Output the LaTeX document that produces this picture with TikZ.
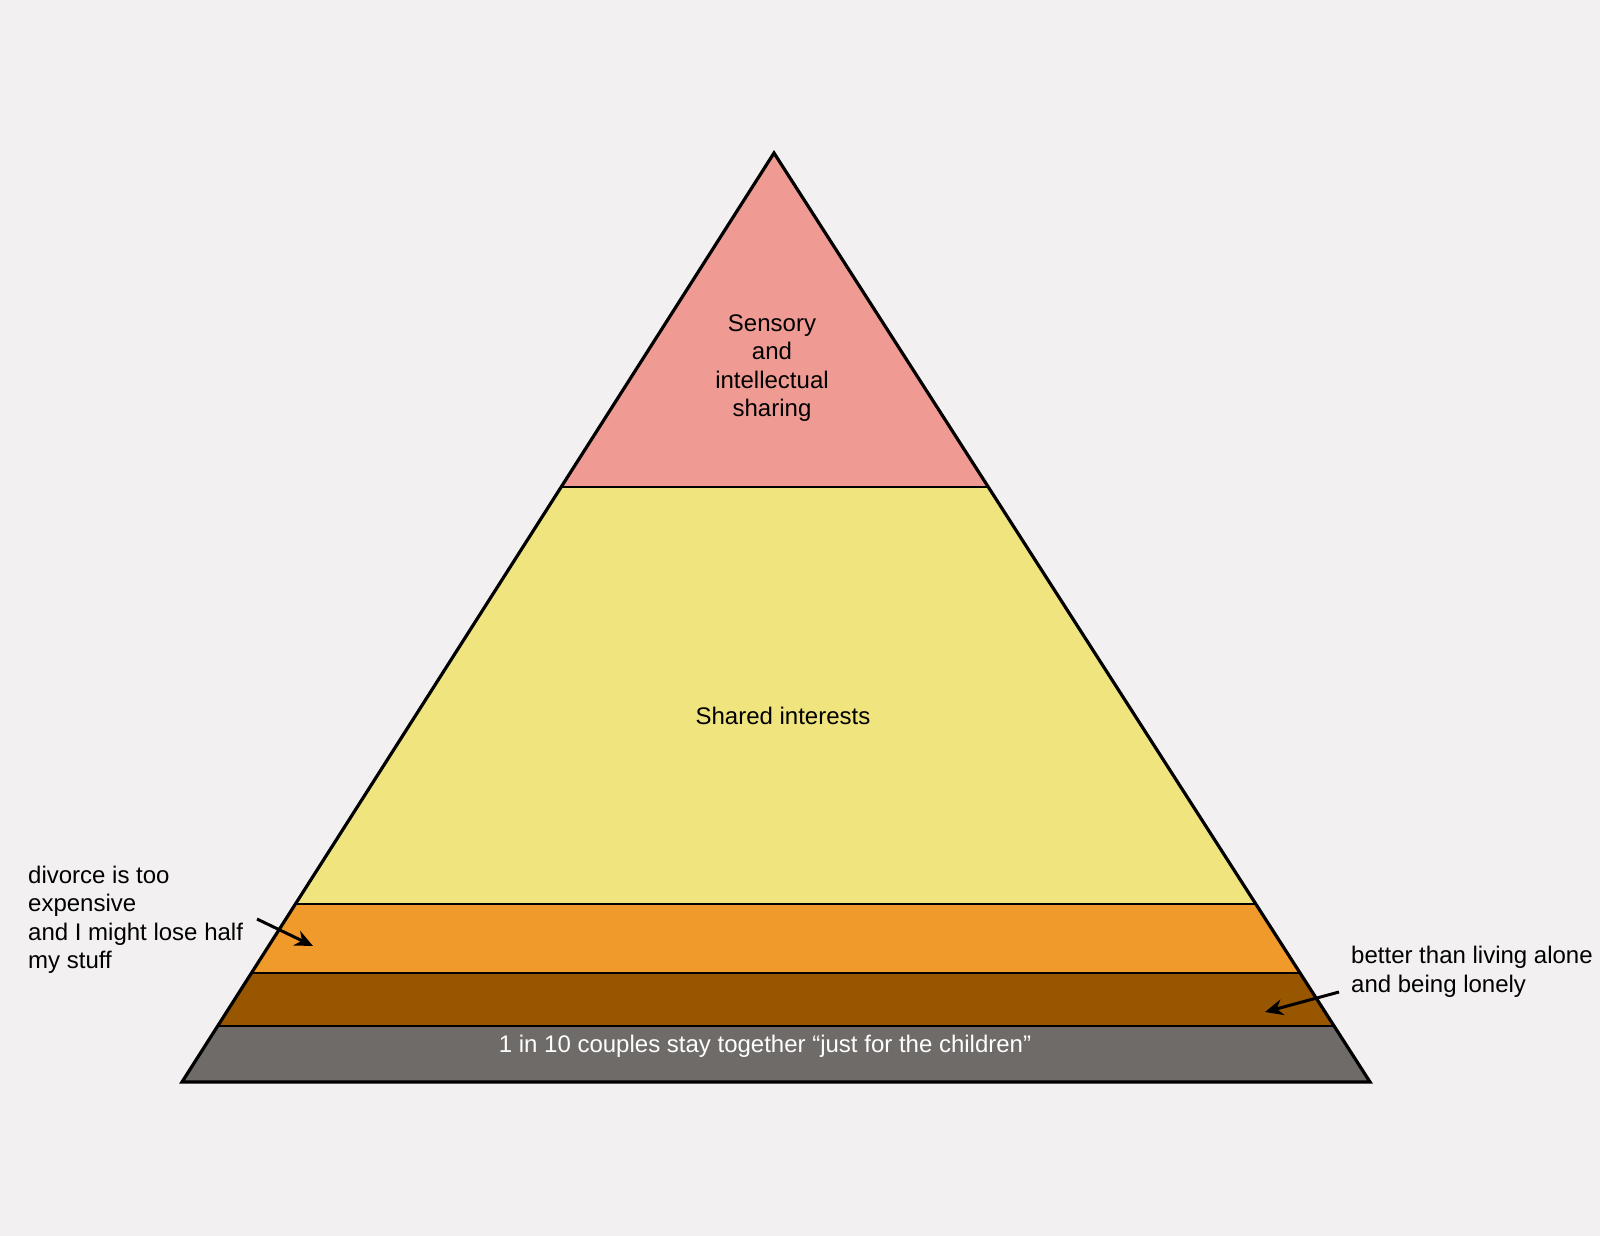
\documentclass[tikz,border=0pt]{standalone}
\usepackage{fontspec}
\setmainfont{Liberation Sans}
\usetikzlibrary{calc,arrows.meta}

\definecolor{bgcol}{RGB}{242,240,240}
\definecolor{topcol}{RGB}{239,155,148}
\definecolor{midcol}{RGB}{240,228,127}
\definecolor{orangecol}{RGB}{239,154,42}
\definecolor{browncol}{RGB}{152,86,0}
\definecolor{greycol}{RGB}{111,107,105}

\begin{document}
\begin{tikzpicture}[x=1pt, y=-1pt,
  label/.style={font=\fontsize{24}{28.5}\selectfont, inner sep=6pt},
  pointer/.style={-{Stealth[length=18pt,width=16pt]}, line width=3pt}]
\fill[bgcol] (0,0) rectangle (1600,1236);
\useasboundingbox (0,0) rectangle (1600,1236);

% corners of the pyramid
\coordinate (apex) at (774,153);
\coordinate (bl) at (182,1082);
\coordinate (br) at (1370,1082);

% layer bands
\begin{scope}
\clip (apex) -- (bl) -- (br) -- cycle;
\fill[topcol] (0,140) rectangle (1600,487);
\fill[midcol] (0,487) rectangle (1600,904);
\fill[orangecol] (0,904) rectangle (1600,973);
\fill[browncol] (0,973) rectangle (1600,1026);
\fill[greycol] (0,1026) rectangle (1600,1090);
\foreach \h in {487,904,973,1026}
  \draw[line width=2.8pt] (0,\h) -- (1600,\h);
\end{scope}
\draw[line width=3.2pt, line join=miter] (apex) -- (bl) -- (br) -- cycle;

\node (sensory) [label, align=center] at (772,368) {Sensory\\and\\intellectual\\sharing};
\node (shared) [label] at (783,716) {Shared interests};
\node (children) [label, text=white] at (765,1046) {1 in 10 couples stay together “just for the children”};

\node (divorce) [label, align=left, anchor=west] at (22,920) {divorce is too\\expensive\\and I might lose half\\my stuff};
\node (lonely) [label, align=left, anchor=west] at (1345,972) {better than living alone\\and being lonely};

\coordinate (divfrom) at (257,919);
\coordinate (divto) at (313,946);
\coordinate (lonfrom) at (1339,992);
\coordinate (lonto) at (1265,1012);
\draw[pointer] (divfrom) -- (divto);
\draw[pointer] (lonfrom) -- (lonto);
\end{tikzpicture}
\end{document}
